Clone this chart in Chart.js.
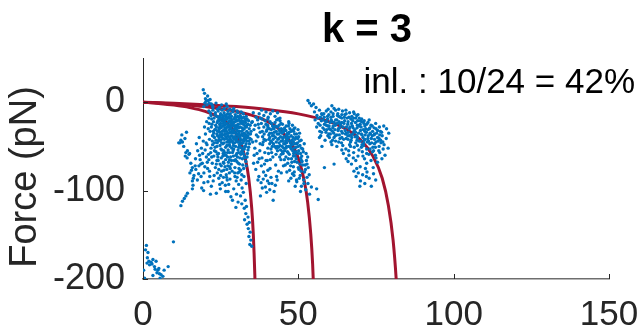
<!DOCTYPE html>
<html>
<head>
<meta charset="utf-8">
<script src="https://cdn.jsdelivr.net/npm/chart.js@4.4.1/dist/chart.umd.min.js"></script>
<style>
  html, body { margin: 0; padding: 0; background: #fff; }
  #wrap { width: 640px; height: 331px; position: relative; }
</style>
</head>
<body>
<div id="wrap"><canvas id="forceChart"></canvas></div>
<script>
// axis ticks
var xTicks = [0, 50, 100, 150];
var yTicks = [-200, -100, 0];

var titleText = 'k = 3';
var inlierText = 'inl. : 10/24 = 42%';
var yLabel = 'Force (pN)';

// fitted curves
var curve1 = [[0,0],[5,-1.4],[10,-3.3],[15,-6.1],[20,-10.4],[25,-18.2],[28,-26.7],[30,-36],[32,-52],[33,-65],[34,-85],[35,-120],[35.5,-149],[36,-196],[36.5,-270]];
var curve2 = [[0,0],[10,-2],[20,-5],[30,-10.3],[38,-18.4],[44,-31],[48,-48],[50,-63.5],[52,-90.5],[53,-113],[54,-149],[54.6,-183],[55.2,-236]];
var curve3 = [[0,0],[10,-1.2],[20,-2.8],[30,-5],[40,-8.2],[50,-13.2],[58,-19.8],[64,-27.9],[70,-42.5],[74,-61],[77,-86],[79,-117],[80.5,-156],[81.5,-200],[82.2,-246]];

// measured points
var originPts = [[0.2,-190],[0.8,-167],[1.1,-162],[1.3,-182],[1.6,-170],[1.9,-180],[2.1,-184],[2.6,-181],[3.2,-178],[3.2,-196],[3.7,-186],[4.2,-180],[4.5,-193],[4.8,-190],[5.1,-188],[5.3,-194],[5.8,-195],[6.4,-197],[6.8,-190],[8.1,-186],[9.8,-158],[2.9,-183],[3.9,-189],[1.4,-176],[5.5,-199],[0.5,-199]];

var armPts = [[11.5,-46],[12.2,-43],[12.5,-37],[14.0,-34],[12.7,-45],[13.1,-50],[11.9,-46],[13.5,-41],
  [13.8,-57],[14.3,-55],[14.8,-59],[13.6,-61],[14.2,-63],[15.0,-58],
  [15.4,-69],[15.9,-74],[15.1,-80],[16.4,-83],[15.9,-89],[16.1,-94],[15.9,-98],[16.8,-72],[15.6,-77],[16.2,-86],
  [14.3,-103],[13.8,-106],[12.7,-112],[12.2,-117],[13.3,-109],
  [17,-76],[18,-72],[18.6,-70],[19.1,-69],[19.6,-80],[19.6,-91],[21.2,-65],[21.8,-57],[22.3,-69],[22.8,-61],[23.3,-74],[23.9,-80],[24.4,-86],[25.5,-91],[24.9,-98],[26.5,-94],[27,-76],[27.8,-65],[26,-69],[28,-87],[18.2,-60],[20.4,-62],[20.8,-75],[21.5,-84],[22.6,-89],[23,-55],[24.2,-66],[25.2,-72],[25.8,-58],[26.8,-82],[27.4,-101],[28.3,-107],[17.5,-88],[18.9,-97],[20,-54],[22,-95],[23.6,-103],
  [17.2,-47],[18.1,-40],[18.8,-52],[19.4,-44],[20.1,-36],[20.6,-48],[21,-30],[21.4,-42],[21.9,-52],[22.2,-25],[22.5,-38],[23,-46],[23.4,-31],[23.8,-50],[19.8,-28],[20.5,-22],[21.2,-18],[21.7,-12]];

var armMore = [[17.6,-55],[18.4,-65],[19.2,-58],[19.9,-73],[20.7,-68],[21.4,-78],[22.1,-62],[22.9,-83],[23.6,-70],[24.7,-93],[25.9,-85],[26.6,-101],[27.6,-93],[18.7,-84],[19.5,-100],[20.9,-90],[21.7,-104],[16.9,-64],[17.9,-81],[20.3,-46],[22.4,-48],[21.1,-59],[24.0,-59],[25.3,-78],[27.1,-88]];

var spikePts = [[19.4,14],[19.8,10],[20.3,1],[20.8,7],[21.3,-1],[19.6,-5],[20.1,4],[21,2],[20.6,-3],[22,-2],[21.6,3],[22.5,-6],[19.9,-1]];

var lobe1Pts = [[22.4,-4],[23.5,-1],[24.6,-6],[25.3,-3],[26.2,-7],[27.1,-5],[28,-8],[24,-8],[26.8,-2],[29.2,-7],
  [21.2,-10],[21.9,-15],[22.5,-9],[22.9,-18],[23.3,-12],[23.8,-16],[24.2,-10],[24.6,-19],[25,-13],[25.4,-9],[25.8,-17],[26.1,-12],[26.5,-20],[26.9,-14],[27.3,-10],[27.7,-18],[28.1,-13],[28.5,-16],[28.9,-11],[29.3,-19],[29.7,-14],[30.1,-17],[30.5,-12],[30.9,-20],[31.3,-15],[31.8,-18],[32.3,-13],[32.8,-19],[33.2,-16],[22.1,-19],[25.6,-15],[27,-19],[29,-9],[30.3,-10],[31.6,-11],
  [21.3,-24],[21.6,-33],[22,-28],[22.4,-38],[22.7,-22],[23.1,-31],[23.4,-26],[23.8,-36],[24.1,-21],[24.4,-29],[24.7,-34],[25,-24],[25.3,-39],[25.6,-27],[25.9,-32],[26.2,-22],[26.5,-36],[26.8,-29],[27.1,-25],[27.4,-38],[27.7,-31],[28,-21],[28.3,-34],[28.6,-27],[28.9,-39],[29.2,-23],[29.5,-30],[29.8,-35],[30.1,-26],[30.4,-21],[30.7,-33],[31,-38],[31.3,-28],[31.6,-24],[31.9,-36],[32.2,-31],[32.5,-22],[32.8,-27],[33.1,-37],[33.4,-33],[33.8,-25],[34.2,-30],[34.6,-36],[35,-23],
  [23,-40],[24.9,-37],[26.9,-33],[28.4,-24],[29.6,-39],[30.9,-29],[32.6,-35],[34,-21],[22.6,-33],[27.9,-28],[30.2,-37],[25.5,-21],[33.6,-40],[31.7,-21],[29,-32],[26.3,-26],
  [22.3,-44],[23.2,-51],[23.9,-46],[24.5,-42],[25.1,-53],[25.7,-47],[26.2,-42],[26.6,-51],[27,-45],[27.4,-54],[27.8,-48],[28.2,-42],[28.6,-52],[29,-46],[29.4,-41],[29.8,-50],[30.2,-44],[30.6,-54],[31,-48],[31.4,-42],[31.8,-52],[32.2,-46],[32.6,-41],[33,-50],[33.4,-44],[33.8,-54],[34.3,-47],[34.8,-42],[26,-55],[28,-50],[30,-41],[32,-55],[29.2,-53],[31.2,-45],[27.6,-43],[33.2,-47],[24.8,-49],[30.8,-51],
  [24.3,-58],[25.2,-63],[25.9,-68],[26.7,-60],[27.3,-72],[27.9,-57],[28.5,-66],[29.1,-61],[29.6,-74],[30.2,-58],[30.7,-69],[31.2,-63],[31.7,-56],[32.1,-71],[32.6,-61],[33.1,-67],[33.6,-58],[28.1,-75],[30.9,-75],[26.4,-73],[29.8,-65],[32.4,-75],
  [29.5,-80],[30.3,-85],[31,-79],[31.6,-88],[30.8,-93],[31.9,-97],[32.5,-84],[29.2,-98],[30.1,-104],[31.4,-106],[32.3,-102],[32.9,-111],[31.8,-115],[32.6,-120],[33.3,-118],[33.1,-126],[33.8,-130],[32.7,-133],[33.5,-138],[34.2,-136],[33.9,-143],[34.5,-147],[34.1,-152],[34.7,-156],[34.4,-161],[35,-163],[33.2,-92],[30.6,-113],[29.9,-119],[28.8,-111]];

var lobe1Core = [[23.2,-14],[23.9,-23],[24.5,-31],[25.1,-18],[25.7,-41],[26.3,-29],[26.9,-17],[27.5,-35],[28.1,-45],[28.7,-20],[29.3,-27],[29.9,-43],[30.5,-16],[31.1,-33],[31.7,-47],[32.3,-25],[32.9,-39],[33.5,-19],[34.1,-44],[23.6,-28],[24.3,-44],[24.9,-15],[25.5,-33],[26.1,-46],[26.7,-24],[27.3,-13],[27.9,-40],[28.5,-31],[29.1,-49],[29.7,-22],[30.3,-32],[30.9,-45],[31.5,-17],[32.1,-38],[32.7,-50],[33.3,-28],[33.9,-35],[34.5,-26],[24.0,-38],[25.9,-37],[27.7,-26],[28.9,-35],[30.7,-25],[31.9,-29],[33.0,-23],[26.5,-31],[28.3,-18],[29.5,-46],[31.3,-51],[25.3,-46],[27.0,-49],[32.5,-44],[34.0,-51],[30.0,-30],[24.7,-25],[22.8,-35],[23.5,-43],[28.8,-57],[30.4,-62],[27.2,-62],[31.5,-59],[32.9,-63],[26.0,-60]];

var lobe1Dense = [[24.2,-17],[24.8,-27],[25.4,-36],[26.0,-19],[26.6,-39],[27.2,-28],[27.8,-16],[28.4,-38],[29.0,-25],[29.6,-17],[30.2,-41],[30.8,-35],[31.4,-22],[32.0,-43],[32.6,-30],[33.2,-20],[24.5,-40],[25.2,-29],[25.8,-24],[26.4,-15],[27.0,-41],[27.6,-22],[28.2,-29],[28.8,-44],[29.4,-34],[30.0,-20],[30.6,-28],[31.2,-40],[31.8,-33],[32.4,-17],[33.0,-42],[24.0,-33],[26.8,-36],[29.8,-28],[31.0,-18],[32.8,-36],[27.4,-45],[25.0,-43],[28.0,-34],[30.4,-45],[33.4,-26],[26.2,-33],[29.2,-41],[31.6,-37],[24.6,-21],[27.0,-19],[28.6,-23],[30.8,-38],[32.2,-22],[33.8,-38],[34.4,-41],[34.8,-33]];

var lobe1Lower = [[23.5,-56],[24.1,-62],[24.8,-70],[25.4,-54],[26.0,-77],[26.6,-65],[27.2,-57],[27.8,-80],[28.4,-70],[29.0,-55],[29.6,-84],[30.2,-67],[30.8,-57],[31.4,-77],[32.0,-64],[32.6,-53],[33.2,-72],[25.0,-83],[26.3,-57],[27.5,-68],[28.7,-78],[29.9,-60],[31.1,-70],[32.3,-58],[33.5,-62],[24.4,-76],[26.9,-85],[28.2,-62],[30.5,-80],[31.8,-82],[23.8,-66],[25.7,-61],[27.9,-73],[29.4,-66],[30.0,-89]];

var lobe2Pts = [[37.4,-13],[38.2,-9],[38.9,-15],[39.6,-11],[40.3,-17],[41,-13],[41.8,-10],[42.5,-16],[43.3,-12],[44.1,-18],[36.4,-17],[35.5,-12],
  [35.2,-22],[35.7,-31],[36.1,-26],[36.5,-37],[36.9,-20],[37.3,-29],[37.7,-34],[38.1,-24],[38.5,-39],[38.9,-28],[39.3,-21],[39.7,-33],[40.1,-26],[40.5,-37],[40.9,-22],[41.3,-31],[41.7,-27],[42.1,-38],[42.5,-23],[42.9,-33],[43.3,-28],[43.7,-36],[44.1,-21],[44.5,-30],[44.9,-25],[45.3,-39],[45.7,-32],[46.1,-27],[46.5,-35],[46.9,-22],[47.3,-30],[47.7,-38],[48.1,-26],[48.5,-33],[48.9,-29],[49.4,-36],[49.9,-31],[38.3,-19],[40.7,-30],[43,-20],[45.1,-34],[47,-24],[39,-36],[41.5,-35],[44.3,-39],[37,-39],[46.4,-39],[42.2,-30],
  [39.5,-43],[40.2,-52],[40.8,-47],[41.4,-57],[41.9,-42],[42.4,-50],[42.9,-45],[43.3,-55],[43.7,-41],[44.1,-49],[44.5,-59],[44.9,-44],[45.3,-52],[45.7,-47],[46.1,-41],[46.5,-56],[46.9,-50],[47.3,-44],[47.7,-53],[48.1,-48],[48.5,-58],[48.9,-42],[49.3,-51],[49.7,-46],[50.1,-55],[50.5,-49],[50.9,-43],[51.4,-53],[51.9,-47],[52.5,-58],[45.1,-58],[47.1,-59],[49.1,-56],[43.6,-51],[46.2,-46],[48.4,-45],[44.3,-54],[38.5,-48],[37.6,-55],
  [38.3,-63],[39.1,-70],[40,-66],[40.9,-75],[41.8,-62],[42.7,-71],[43.6,-78],[44.4,-65],[45.2,-72],[46,-62],[46.6,-69],[47.2,-77],[47.8,-64],[48.4,-73],[49,-61],[49.6,-68],[50.2,-76],[50.8,-63],[51.4,-71],[52,-79],[52.6,-66],[53.2,-74],[48.7,-79],[50.5,-70],[46.3,-79],[51.1,-61],[35.8,-60],[36.9,-68],
  [37.3,-84],[38,-91],[38.7,-87],[39.4,-96],[40.1,-89],[40.8,-99],[41.5,-92],[42.2,-101],[39.8,-102],[41.2,-85],[42.6,-94],[41.9,-111],[43.2,-88],[48.6,-83],[49.5,-90],[50.3,-86],[51,-95],[51.7,-88],[52.4,-99],[53.1,-92],[53.6,-104],[52.8,-85],[55.9,-98],[56.4,-110],[50.7,-101],[54.2,-96]];

var lobe2Core = [[37.1,-25],[37.8,-18],[38.4,-33],[39.0,-42],[39.6,-25],[40.2,-19],[40.8,-40],[41.4,-24],[42.0,-47],[42.6,-27],[43.2,-36],[43.8,-46],[44.4,-24],[45.0,-41],[45.6,-29],[46.2,-50],[46.8,-36],[47.4,-46],[48.0,-32],[48.6,-52],[49.2,-40],[49.8,-58],[50.4,-44],[51.0,-66],[38.7,-45],[39.9,-31],[41.1,-44],[42.3,-34],[43.5,-19],[44.7,-35],[45.9,-44],[47.1,-34],[48.3,-40],[49.5,-47],[50.7,-58],[40.4,-58],[41.6,-50],[42.8,-59],[44.0,-62],[45.5,-65],[46.7,-57],[47.9,-68],[49.3,-64],[50.0,-50],[51.6,-56],[52.2,-71],[53.0,-62],[44.8,-50],[47.6,-49],[43.9,-31],[46.0,-32],[48.8,-36],[39.2,-57],[36.4,-44],[37.7,-47],[41.0,-65]];

var lobe2Dense = [[40.2,-28],[40.8,-35],[41.4,-45],[42.0,-29],[42.6,-40],[43.2,-50],[43.8,-26],[44.4,-44],[45.0,-31],[45.6,-55],[46.2,-37],[46.8,-27],[47.4,-51],[48.0,-43],[48.6,-30],[49.2,-57],[49.8,-41],[50.4,-35],[51.0,-52],[40.5,-42],[41.7,-38],[42.9,-52],[44.1,-33],[45.3,-47],[46.5,-43],[47.7,-33],[48.9,-47],[50.1,-39],[43.4,-42],[44.9,-56],[47.0,-40],[48.2,-55],[41.2,-53],[46.0,-52],
  [46.8,-64],[47.5,-72],[48.1,-81],[48.8,-67],[49.4,-88],[50.0,-74],[50.6,-83],[51.2,-67],[51.8,-92],[52.3,-76],[49.0,-95],[47.6,-86],[50.9,-78],[52.8,-70],[48.4,-61],[45.8,-71],[44.5,-80],[43.0,-84],[53.5,-82],[46.9,-89]];

var lobe2Left = [[35.3,-45],[36.0,-52],[36.7,-58],[37.4,-64],[38.1,-72],[38.8,-79],[39.5,-83],[40.2,-77],[36.3,-76],[37.0,-88],[35.6,-69],[39.6,-66],[40.6,-92],[38.4,-97],[37.8,-106]];

var lobe3Pts = [[53.1,2],[53.6,-1],[54.2,-4],[54.9,-2],[60.8,-4],[61.5,-7],[59.6,-8],[55.7,-6],
  [55.2,-11],[56,-15],[56.8,-9],[57.5,-13],[58.3,-17],[59,-10],[59.8,-14],[60.5,-11],[61.2,-16],[62,-9],[62.7,-13],[63.5,-17],[64.2,-10],[65,-14],[65.7,-18],[66.5,-12],[67.2,-16],[68,-13],[68.8,-15],[69.6,-18],[70.4,-19],[71.2,-21],[63,-8],[65.3,-9],[67.8,-11],
  [55.4,-20],[55.9,-28],[56.4,-24],[56.9,-33],[57.4,-21],[57.9,-29],[58.4,-25],[58.9,-34],[59.4,-19],[59.9,-27],[60.4,-31],[60.9,-22],[61.4,-35],[61.9,-26],[62.4,-20],[62.9,-30],[63.4,-24],[63.9,-33],[64.4,-28],[64.9,-21],[65.4,-35],[65.9,-25],[66.4,-30],[66.9,-19],[67.4,-27],[67.9,-33],[68.4,-23],[68.9,-29],[69.4,-35],[69.9,-25],[70.4,-22],[70.9,-31],[71.4,-27],[71.9,-34],[72.4,-23],[72.9,-30],[73.4,-26],[73.9,-33],[74.4,-29],[74.9,-24],[75.5,-32],[76.1,-28],[76.8,-34],[77.5,-27],[78.4,-30],[57.1,-17],[59.2,-31],[61.1,-29],[63.1,-22],[65.1,-32],[67.1,-24],[69.1,-21],[71.1,-24],[73.1,-35],[60.2,-23],[64,-18],
  [59.5,-38],[60.5,-45],[61.5,-40],[62.4,-50],[63.2,-37],[63.9,-46],[64.6,-42],[65.3,-53],[65.9,-38],[66.5,-48],[67,-43],[67.5,-36],[68,-51],[68.5,-46],[69,-40],[69.5,-54],[70,-44],[70.5,-37],[71,-49],[71.5,-42],[72,-53],[72.5,-38],[73,-47],[73.5,-41],[74,-51],[74.5,-36],[75,-45],[75.5,-40],[76,-50],[76.5,-43],[77,-38],[77.6,-48],[78.3,-41],[66.2,-55],[68.3,-39],[70.3,-51],[72.2,-45],[74.2,-55],[76.2,-37],[62,-44],[64,-54],[58.4,-74],[61.5,-70],[57.6,-50],[58.6,-43],
  [64.5,-58],[65.4,-64],[66.3,-60],[67.1,-70],[67.8,-57],[68.5,-66],[69.2,-61],[69.9,-73],[70.6,-56],[71.3,-64],[72,-69],[72.7,-59],[73.4,-66],[74.1,-74],[74.8,-60],[75.5,-68],[76.2,-57],[76.9,-64],[71.6,-75],[68.8,-75],[73.9,-56],[66,-67],
  [67.9,-78],[68.6,-84],[69.3,-80],[70,-89],[70.7,-82],[71.4,-92],[72.1,-79],[72.8,-86],[73.5,-95],[74.2,-81],[74.9,-88],[69.8,-95],[71.9,-84],
  [78.9,-52],[77.9,-60],[79.1,-35]];

var lobe3Core = [[56.3,-18],[57.0,-26],[57.7,-14],[58.4,-31],[59.1,-22],[59.8,-36],[60.5,-17],[61.2,-27],[61.9,-38],[62.6,-15],[63.3,-29],[64.0,-40],[64.7,-24],[65.4,-13],[66.1,-34],[66.8,-45],[67.5,-21],[68.2,-31],[68.9,-43],[69.6,-27],[70.3,-36],[71.0,-46],[71.7,-30],[72.4,-41],[73.1,-53],[73.8,-38],[74.5,-47],[75.2,-35],[75.9,-55],[76.6,-46],[77.3,-53],[58.0,-20],[59.5,-27],[61.0,-33],[62.5,-24],[64.0,-14],[65.5,-28],[67.0,-37],[68.5,-18],[70.0,-32],[71.5,-37],[73.0,-29],[74.5,-42],[76.0,-41],[60.0,-40],[63.0,-45],[66.0,-42],[69.0,-49],[72.0,-58],[75.0,-63],[70.8,-61],[67.7,-63],[62.0,-20],[66.3,-17],[69.2,-14],[72.8,-20],[57.2,-38],[60.8,-48],[64.3,-49]];

var lobe3Dense = [[58.2,-13],[58.8,-22],[59.4,-16],[60.0,-30],[60.6,-20],[61.2,-13],[61.8,-31],[62.4,-37],[63.0,-16],[63.6,-26],[64.2,-35],[64.8,-17],[65.4,-41],[66.0,-22],[66.6,-28],[67.2,-40],[67.8,-18],[68.4,-34],[69.0,-26],[69.6,-44],[70.2,-28],[70.8,-40],[71.4,-33],[72.0,-25],[72.6,-44],[73.2,-36],[73.8,-27],[74.4,-37],[75.0,-30],[59.0,-26],[60.3,-36],[61.5,-23],[62.8,-32],[64.0,-23],[65.2,-36],[66.4,-38],[67.6,-29],[68.8,-38],[70.0,-21],[71.2,-43],[72.4,-31],[73.6,-46],[74.8,-51],[63.4,-41],[66.8,-50],[70.5,-48],[61.0,-43],[57.5,-34],[56.8,-40],[75.7,-44],[76.4,-33],[77.2,-45]];

var blue = '#0072BD';
var red = '#A2142F';
var font = '"Liberation Sans", Arial, Helvetica, sans-serif';

function toXY(list) {
    return list.map(function (p) { return { x: p[0], y: p[1] }; });
}

var allPts = originPts.concat(armPts, armMore, spikePts, lobe1Pts, lobe1Core, lobe1Dense, lobe1Lower,
    lobe2Pts, lobe2Core, lobe2Dense, lobe2Left, lobe3Pts, lobe3Core, lobe3Dense);

function curveSet(list) {
    return {
        data: toXY(list),
        showLine: true,
        borderColor: red,
        borderWidth: 3,
        pointRadius: 0,
        cubicInterpolationMode: 'monotone',
        fill: false
    };
}

// title, inlier text, y label and inward tick marks
var overlay = {
    id: 'overlay',
    afterDraw: function (chart) {
        var ctx = chart.ctx;
        var area = chart.chartArea;
        var sx = chart.scales.x, sy = chart.scales.y;
        ctx.save();
        ctx.strokeStyle = '#262626';
        ctx.lineWidth = 1;
        ctx.beginPath();
        xTicks.forEach(function (v) {
            var px = Math.round(sx.getPixelForValue(v)) + 0.5;
            ctx.moveTo(px, area.bottom);
            ctx.lineTo(px, area.bottom - 5);
        });
        yTicks.forEach(function (v) {
            var py = Math.round(sy.getPixelForValue(v)) + 0.5;
            ctx.moveTo(area.left, py);
            ctx.lineTo(area.left + 5, py);
        });
        ctx.stroke();

        ctx.fillStyle = '#000';
        ctx.textBaseline = 'alphabetic';
        ctx.textAlign = 'center';
        ctx.font = 'bold 40px ' + font;
        ctx.fillText(titleText, 367, 42);

        ctx.textAlign = 'right';
        ctx.font = '35px ' + font;
        ctx.fillText(inlierText, 635, 93);

        ctx.fillStyle = '#262626';
        ctx.font = '38px ' + font;
        ctx.translate(36, 177);
        ctx.rotate(-Math.PI / 2);
        ctx.textAlign = 'center';
        ctx.fillText(yLabel, 0, 0);
        ctx.restore();
    }
};

new Chart(document.getElementById('forceChart'), {
    type: 'scatter',
    data: {
        datasets: [
            {
                data: toXY(allPts),
                backgroundColor: blue,
                borderWidth: 0,
                pointRadius: 1.7,
                pointHoverRadius: 1.7
            },
            curveSet(curve1),
            curveSet(curve2),
            curveSet(curve3)
        ]
    },
    options: {
        responsive: true,
        maintainAspectRatio: false,
        animation: false,
        events: [],
        layout: { padding: { left: 0, right: 31, top: 58, bottom: 0 } },
        plugins: {
            legend: { display: false },
            tooltip: { enabled: false },
            title: { display: false }
        },
        scales: {
            x: {
                type: 'linear',
                min: 0,
                max: 150,
                afterBuildTicks: function (scale) {
                    scale.ticks = xTicks.map(function (v) { return { value: v }; });
                },
                afterFit: function (scale) {
                    scale.height = 52;
                    scale.paddingLeft = 0;
                    scale.paddingRight = 0;
                },
                grid: { display: false, drawTicks: false },
                border: { display: true, color: '#6e6e6e', width: 1.5 },
                ticks: { color: '#262626', font: { family: font, size: 35 }, padding: 15, maxRotation: 0 }
            },
            y: {
                type: 'linear',
                min: -200,
                max: 50,
                afterBuildTicks: function (scale) {
                    scale.ticks = yTicks.map(function (v) { return { value: v }; });
                },
                afterFit: function (scale) {
                    scale.width = 143;
                    scale.paddingTop = 0;
                    scale.paddingBottom = 0;
                },
                grid: { display: false, drawTicks: false },
                border: { display: true, color: '#262626', width: 1 },
                ticks: { color: '#262626', font: { family: font, size: 36 }, padding: 18 }
            }
        }
    },
    plugins: [overlay]
});
</script>
</body>
</html>
